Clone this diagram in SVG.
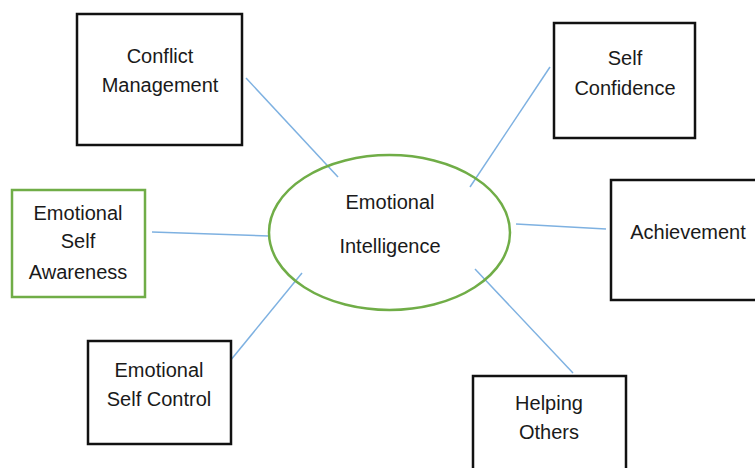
<svg xmlns="http://www.w3.org/2000/svg" width="755" height="468" viewBox="0 0 755 468">
<style>
.box{fill:#fff;stroke:#111;stroke-width:2.5}
.gbox{fill:#fff;stroke:#70AD47;stroke-width:2.5}
.t{font-family:"Liberation Sans",Arial,sans-serif;font-size:20px;fill:#1a1a1a;text-anchor:middle}
.c{stroke:#7EB1E1;stroke-width:1.5;fill:none}
</style>
<rect width="755" height="468" fill="#fff"/>
<g id="connectors">
<line class="c" x1="246" y1="78" x2="338" y2="177"/>
<line class="c" x1="550" y1="67" x2="470" y2="187"/>
<line class="c" x1="516" y1="224" x2="606" y2="229"/>
<line class="c" x1="152" y1="232" x2="269" y2="236"/>
<line class="c" x1="230" y1="361" x2="302" y2="273"/>
<line class="c" x1="475" y1="269" x2="573" y2="373"/>
</g>
<g id="center">
<ellipse cx="389.5" cy="232.5" rx="120.5" ry="77.5" fill="none" stroke="#70AD47" stroke-width="2.5"/>
<text class="t" x="390" y="209">Emotional</text>
<text class="t" x="390" y="253">Intelligence</text>
</g>
<g id="conflict">
<rect class="box" x="77" y="14" width="165" height="131"/>
<text class="t" x="160" y="63">Conflict</text>
<text class="t" x="160" y="92">Management</text>
</g>
<g id="confidence">
<rect class="box" x="554" y="23" width="141" height="115"/>
<text class="t" x="625" y="65">Self</text>
<text class="t" x="625" y="95">Confidence</text>
</g>
<g id="achievement">
<rect class="box" x="611" y="180" width="150" height="120"/>
<text class="t" x="688" y="239">Achievement</text>
</g>
<g id="awareness">
<rect class="gbox" x="12" y="190" width="133" height="107"/>
<text class="t" x="78" y="220">Emotional</text>
<text class="t" x="78" y="248">Self</text>
<text class="t" x="78" y="279">Awareness</text>
</g>
<g id="control">
<rect class="box" x="88" y="341" width="143" height="103"/>
<text class="t" x="159" y="377">Emotional</text>
<text class="t" x="159" y="406">Self Control</text>
</g>
<g id="helping">
<rect class="box" x="473" y="376" width="153" height="100"/>
<text class="t" x="549" y="410">Helping</text>
<text class="t" x="549" y="439">Others</text>
</g>
</svg>
